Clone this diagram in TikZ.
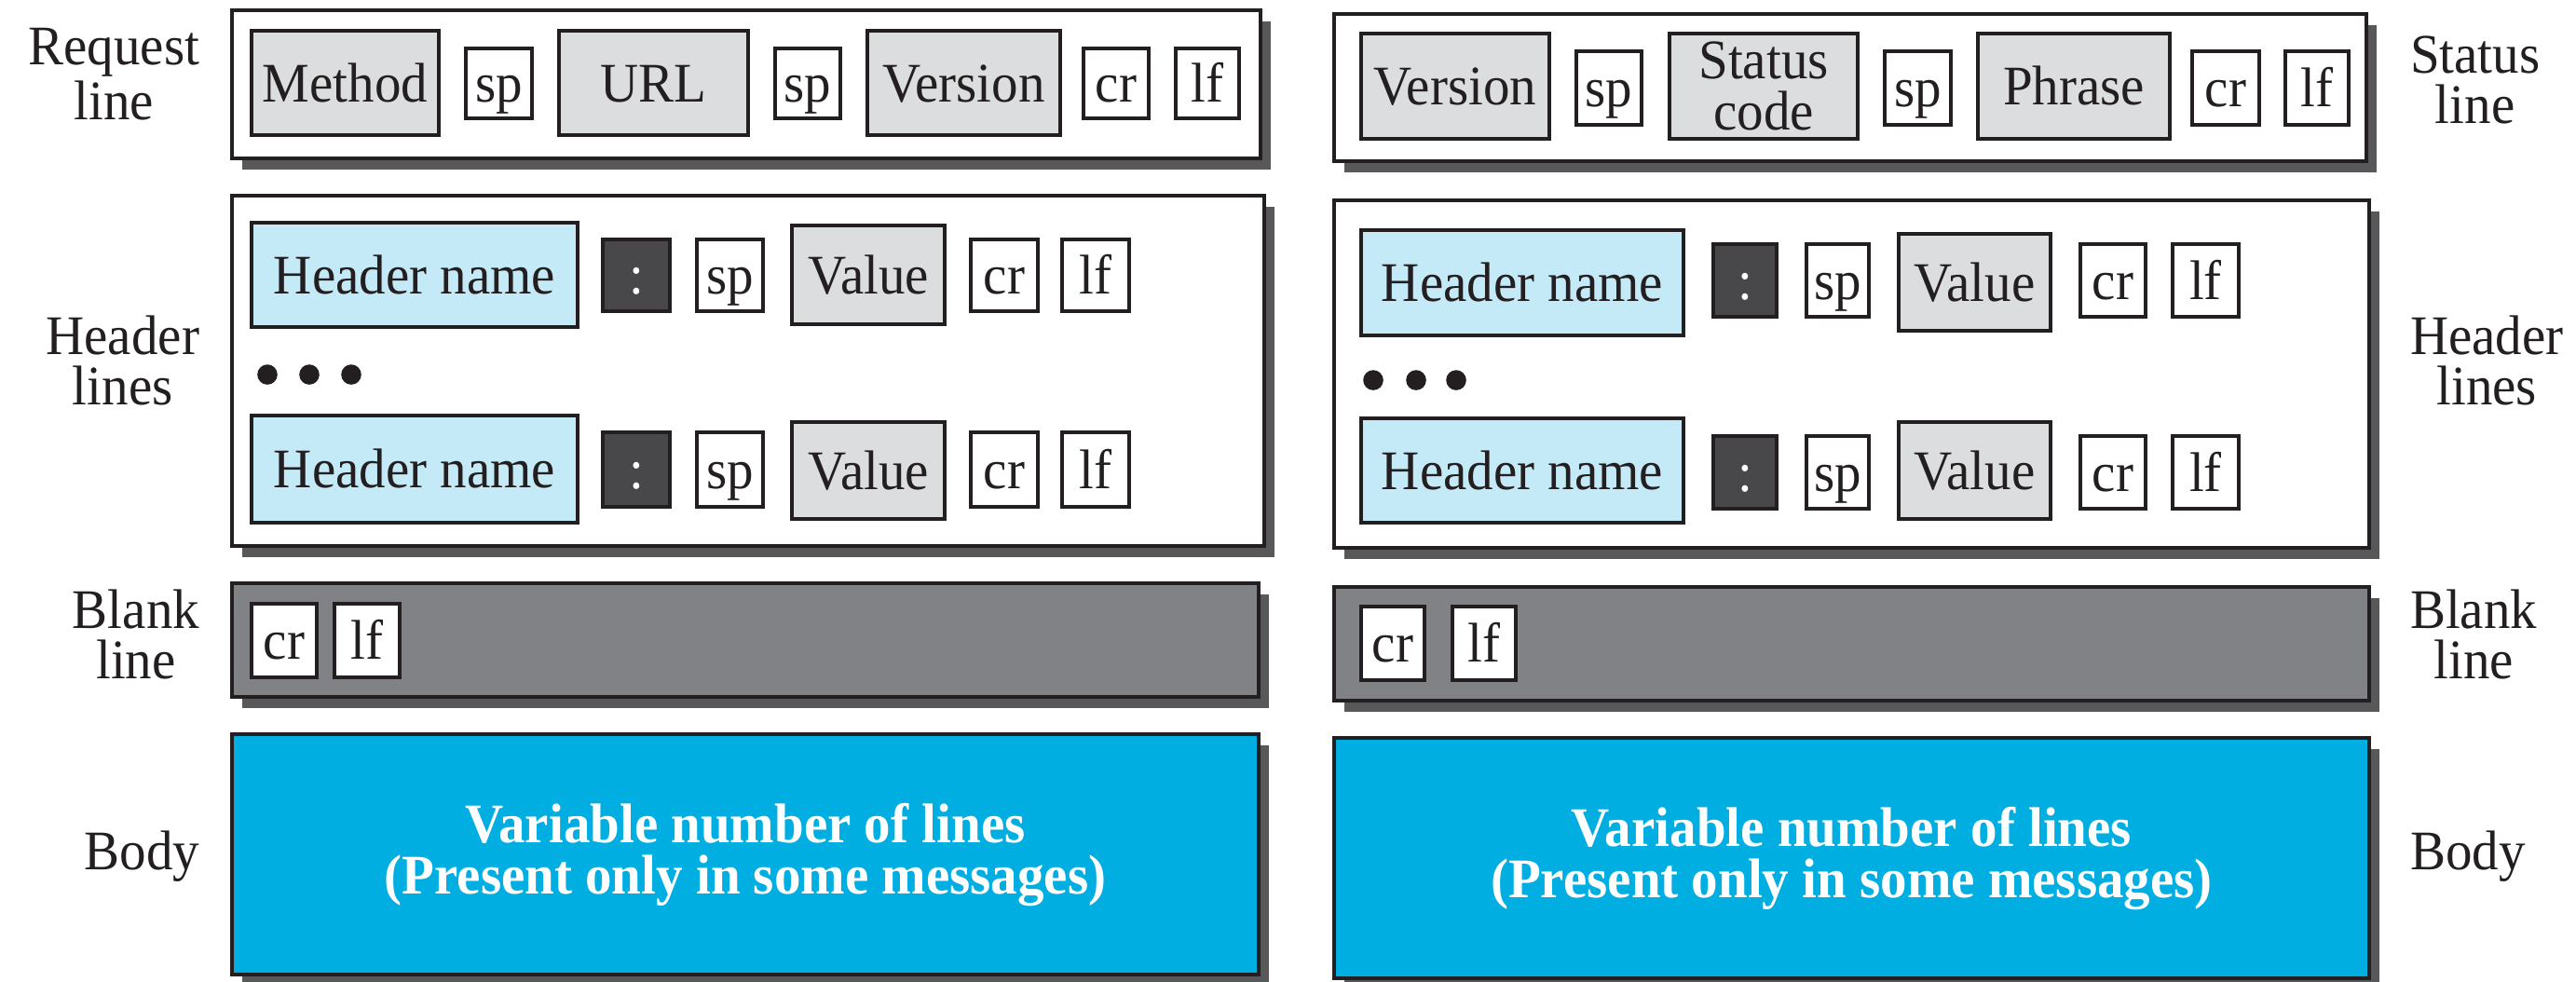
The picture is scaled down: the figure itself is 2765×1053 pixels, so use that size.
\documentclass[tikz,border=0pt]{standalone}
\usepackage{fontspec}
\setmainfont{Liberation Serif}[FakeStretch=0.95]
\usetikzlibrary{backgrounds}
\definecolor{ink}{HTML}{231F20}
\definecolor{gbox}{HTML}{DCDDDE}
\definecolor{hbox}{HTML}{C5EAF7}
\definecolor{cbox}{HTML}{48484A}
\definecolor{blankc}{HTML}{808285}
\definecolor{bodyc}{HTML}{00AEE2}
\definecolor{shad}{HTML}{58585A}
\newcommand{\bxn}[7]{\node[#1, minimum width={(#4-#3-3.5)*0.25pt}, minimum height={(#6-#5-3.5)*0.25pt}] (#2) at ({(#3+#4)/2},{(#5+#6)/2}) {#7};}
\tikzset{
  basebox/.style={draw=ink, line width=0.9pt, inner sep=0pt, outer sep=0pt, text=ink, font=\fontsize{15}{13.75}\selectfont},
  outerbox/.style={basebox, fill=white},
  field/.style={basebox, fill=gbox, text height=10pt, text depth=0pt},
  hname/.style={basebox, fill=hbox, text height=10pt, text depth=0pt},
  small/.style={basebox, fill=white, text height=10pt, text depth=0pt},
  colonbox/.style={basebox, fill=cbox, text=white, text height=10pt, text depth=0pt},
  blankbox/.style={basebox, fill=blankc},
  bodybox/.style={basebox, fill=bodyc, text=white, align=center, font=\fontsize{15}{13.75}\selectfont\bfseries},
  twoline/.style={basebox, fill=gbox, align=center},
  lbl/.style={inner sep=0pt, outer sep=0pt, text=ink, align=center, font=\fontsize{15}{13.5}\selectfont},
  shadowfill/.style={fill=shad}
}
\begin{document}
\begin{tikzpicture}[x=0.25pt,y=-0.25pt]
\useasboundingbox (0,0) rectangle (2765,1053);
% outer boxes
\bxn{outerbox}{lreq}{247}{1355}{9}{172}{}
\bxn{outerbox}{lhdr}{247}{1359}{208}{588}{}
\bxn{blankbox}{lblank}{247}{1353}{624}{750}{}
\bxn{bodybox}{lbody}{247}{1353}{786}{1048}{Variable number of lines\\(Present only in some messages)}
\bxn{outerbox}{rstat}{1430}{2542}{13}{175}{}
\bxn{outerbox}{rhdr}{1430}{2545}{213}{590}{}
\bxn{blankbox}{rblank}{1430}{2545}{628}{754}{}
\bxn{bodybox}{rbody}{1430}{2545}{790}{1052}{Variable number of lines\\(Present only in some messages)}
% request line
\bxn{field}{lm}{268}{473}{31}{147}{Method}
\bxn{small}{lsp1}{498}{573}{50}{129}{sp}
\bxn{field}{lurl}{598}{805}{31}{147}{URL}
\bxn{small}{lsp2}{830}{904}{50}{129}{sp}
\bxn{field}{lver}{929}{1140}{31}{147}{Version}
\bxn{small}{lcr}{1161}{1235}{50}{129}{cr}
\bxn{small}{llf}{1260}{1332}{50}{129}{lf}
% status line
\bxn{field}{rver}{1459}{1665}{34}{151}{Version}
\bxn{small}{rsp1}{1690}{1764}{53}{136}{sp}
\bxn{twoline}{rsc}{1790}{1996}{34}{151}{Status\\code}
\bxn{small}{rsp2}{2021}{2096}{53}{136}{sp}
\bxn{field}{rphr}{2121}{2331}{34}{151}{Phrase}
\bxn{small}{rcr}{2351}{2427}{53}{136}{cr}
\bxn{small}{rlf}{2451}{2523}{53}{136}{lf}
% left header lines
\bxn{hname}{lh1}{268}{622}{237}{353}{Header name}
\bxn{colonbox}{lc1}{645}{721}{255}{336}{:}
\bxn{small}{ls1}{746}{821}{255}{336}{sp}
\bxn{field}{lv1}{848}{1016}{240}{350}{Value}
\bxn{small}{lcr1}{1040}{1116}{255}{336}{cr}
\bxn{small}{llf1}{1138}{1214}{255}{336}{lf}
\bxn{hname}{lh2}{268}{622}{444}{563}{Header name}
\bxn{colonbox}{lc2}{645}{721}{462}{546}{:}
\bxn{small}{ls2}{746}{821}{462}{546}{sp}
\bxn{field}{lv2}{848}{1016}{451}{559}{Value}
\bxn{small}{lcr2}{1040}{1116}{462}{546}{cr}
\bxn{small}{llf2}{1138}{1214}{462}{546}{lf}
\fill[ink] (287,402) circle [radius=2.7pt] (332,402) circle [radius=2.7pt] (377,402) circle [radius=2.7pt];
% right header lines
\bxn{hname}{rh1}{1459}{1809}{245}{362}{Header name}
\bxn{colonbox}{rc1}{1837}{1909}{260}{342}{:}
\bxn{small}{rs1}{1937}{2008}{260}{342}{sp}
\bxn{field}{rv1}{2036}{2203}{249}{357}{Value}
\bxn{small}{rcr1}{2231}{2305}{260}{342}{cr}
\bxn{small}{rlf1}{2330}{2405}{260}{342}{lf}
\bxn{hname}{rh2}{1459}{1809}{447}{563}{Header name}
\bxn{colonbox}{rc2}{1837}{1909}{466}{548}{:}
\bxn{small}{rs2}{1937}{2008}{466}{548}{sp}
\bxn{field}{rv2}{2036}{2203}{451}{559}{Value}
\bxn{small}{rcr2}{2231}{2305}{466}{548}{cr}
\bxn{small}{rlf2}{2330}{2405}{466}{548}{lf}
\fill[ink] (1474,408) circle [radius=2.7pt] (1520,408) circle [radius=2.7pt] (1563,408) circle [radius=2.7pt];
% blank line fields
\bxn{small}{lbcr}{268}{342}{646}{729}{cr}
\bxn{small}{lblf}{357}{431}{646}{729}{lf}
\bxn{small}{rbcr}{1459}{1531}{649}{732}{cr}
\bxn{small}{rblf}{1557}{1629}{649}{732}{lf}
% labels
\node[lbl, anchor=base east] (lab1) at (214,128) {Request\\line};
\node[lbl, anchor=base east] (lab2) at (214,434) {Header\\lines};
\node[lbl, anchor=base east] (lab3) at (214,728) {Blank\\line};
\node[lbl, anchor=base east] (lab4) at (214,933) {Body};
\node[lbl, anchor=base west] (rab1) at (2587,132) {Status\\line};
\node[lbl, anchor=base west] (rab2) at (2587,434) {Header\\lines};
\node[lbl, anchor=base west] (rab3) at (2587,728) {Blank\\line};
\node[lbl, anchor=base west] (rab4) at (2587,933) {Body};
% shadows
\begin{scope}[on background layer]
\foreach \o in {lreq,lhdr,lblank,lbody,rstat,rhdr,rblank,rbody}{
  \fill[shadowfill] ([shift={(11,12)}]\o.north west) rectangle ([shift={(11,12)}]\o.south east);
}
\end{scope}
\end{tikzpicture}
\end{document}
